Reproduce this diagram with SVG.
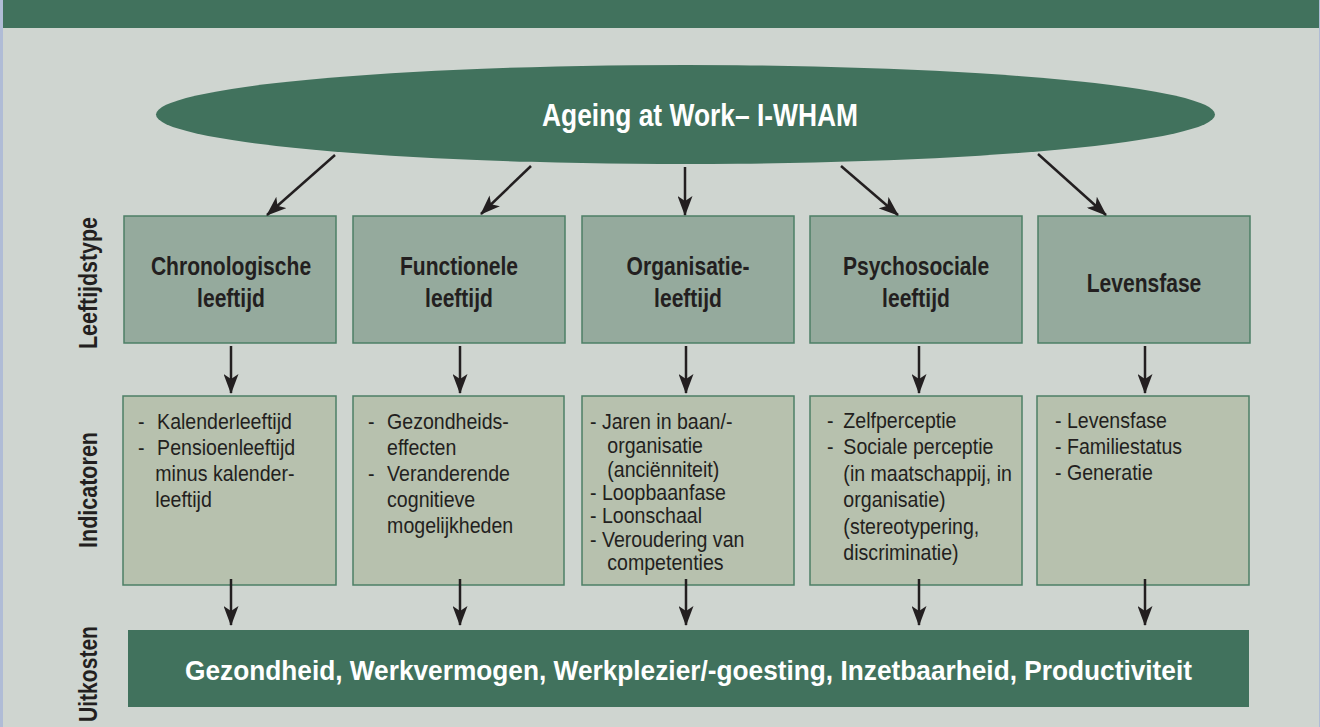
<svg xmlns="http://www.w3.org/2000/svg" width="1320" height="727" viewBox="0 0 1320 727">
<defs>
<marker id="ah" markerUnits="userSpaceOnUse" viewBox="0 0 20 15" refX="19" refY="7.5" markerWidth="20" markerHeight="15" orient="auto">
<path d="M0,0 L20,7.5 L0,15 L5,7.5 z" fill="#231f20"/>
</marker>
<style>
.bg{fill:#cfd5d0}
.green{fill:#41725d}
.tbox{fill:#95aa9d;stroke:#4d7f66;stroke-width:1.5}
.ibox{fill:#b7c1ae;stroke:#4d7f66;stroke-width:1.5}
.conn line{stroke:#231f20;stroke-width:2.5;marker-end:url(#ah)}
.lab{font-family:"Liberation Sans",Arial,sans-serif;font-weight:bold;font-size:26px;fill:#231f20;text-anchor:middle}
.side{font-family:"Liberation Sans",Arial,sans-serif;font-weight:bold;font-size:26px;fill:#231f20;text-anchor:middle}
.ind{font-family:"Liberation Sans",Arial,sans-serif;font-size:21.5px;fill:#231f20}
.wt{font-family:"Liberation Sans",Arial,sans-serif;font-weight:bold;fill:#ffffff;text-anchor:middle}
</style>
</defs>
<rect x="0" y="0" width="1320" height="727" fill="#b0bcd6"/>
<rect class="bg" x="3" y="0" width="1316" height="727"/>
<rect class="green" x="3" y="0" width="1316" height="28"/>

<g id="side-labels">
<text class="side" transform="translate(97,283) rotate(-90)" textLength="132" lengthAdjust="spacingAndGlyphs">Leeftijdstype</text>
<text class="side" transform="translate(97,490) rotate(-90)" textLength="116" lengthAdjust="spacingAndGlyphs">Indicatoren</text>
<text class="side" transform="translate(97,674) rotate(-90)" textLength="96" lengthAdjust="spacingAndGlyphs">Uitkosten</text>
</g>

<g id="root">
<ellipse class="green" cx="685.5" cy="114.5" rx="529.5" ry="49.5"/>
<text class="wt" x="700" y="126" font-size="31" textLength="316" lengthAdjust="spacingAndGlyphs">Ageing at Work– I-WHAM</text>
</g>

<g id="type-chrono">
<rect class="tbox" x="124" y="216" width="212" height="127"/>
<g transform="translate(231,0) scale(0.81,1)"><text class="lab" x="0" y="275">Chronologische</text><text class="lab" x="0" y="307">leeftijd</text></g>
</g>
<g id="type-functioneel">
<rect class="tbox" x="353" y="216" width="212" height="127"/>
<g transform="translate(459,0) scale(0.81,1)"><text class="lab" x="0" y="275">Functionele</text><text class="lab" x="0" y="307">leeftijd</text></g>
</g>
<g id="type-organisatie">
<rect class="tbox" x="582" y="216" width="212" height="127"/>
<g transform="translate(688,0) scale(0.81,1)"><text class="lab" x="0" y="275">Organisatie-</text><text class="lab" x="0" y="307">leeftijd</text></g>
</g>
<g id="type-psychosociaal">
<rect class="tbox" x="810" y="216" width="212" height="127"/>
<g transform="translate(916,0) scale(0.81,1)"><text class="lab" x="0" y="275">Psychosociale</text><text class="lab" x="0" y="307">leeftijd</text></g>
</g>
<g id="type-levensfase">
<rect class="tbox" x="1038" y="216" width="212" height="127"/>
<g transform="translate(1144,0) scale(0.81,1)"><text class="lab" x="0" y="292">Levensfase</text></g>
</g>

<g id="ind-chrono">
<rect class="ibox" x="123" y="396" width="213" height="189"/>
<g class="ind" transform="translate(138,0) scale(0.91,1)">
<text x="0" y="429">-</text><text x="21" y="429">Kalenderleeftijd</text>
<text x="0" y="455">-</text><text x="21" y="455">Pensioenleeftijd</text>
<text x="19" y="481">minus kalender-</text>
<text x="19" y="507">leeftijd</text>
</g>
</g>
<g id="ind-functioneel">
<rect class="ibox" x="353" y="396" width="211" height="189"/>
<g class="ind" transform="translate(368,0) scale(0.91,1)">
<text x="0" y="429">-</text><text x="21" y="429">Gezondheids-</text>
<text x="21" y="455">effecten</text>
<text x="0" y="481">-</text><text x="21" y="481">Veranderende</text>
<text x="21" y="507">cognitieve</text>
<text x="21" y="533">mogelijkheden</text>
</g>
</g>
<g id="ind-organisatie">
<rect class="ibox" x="582" y="396" width="212" height="189"/>
<g class="ind" transform="translate(590,0) scale(0.91,1)">
<text x="0" y="429">- Jaren in baan/-</text>
<text x="19" y="453">organisatie</text>
<text x="19" y="477">(anciënniteit)</text>
<text x="0" y="500">- Loopbaanfase</text>
<text x="0" y="523">- Loonschaal</text>
<text x="0" y="547">- Veroudering van</text>
<text x="19" y="570">competenties</text>
</g>
</g>
<g id="ind-psychosociaal">
<rect class="ibox" x="810" y="396" width="212" height="189"/>
<g class="ind" transform="translate(827,0) scale(0.91,1)">
<text x="0" y="428">-</text><text x="18" y="428">Zelfperceptie</text>
<text x="0" y="454.5">-</text><text x="18" y="454.5">Sociale perceptie</text>
<text x="18" y="481">(in maatschappij, in</text>
<text x="18" y="507.5">organisatie)</text>
<text x="18" y="534">(stereotypering,</text>
<text x="18" y="560.5">discriminatie)</text>
</g>
</g>
<g id="ind-levensfase">
<rect class="ibox" x="1037" y="396" width="212" height="189"/>
<g class="ind" transform="translate(1055,0) scale(0.91,1)">
<text x="0" y="428">- Levensfase</text>
<text x="0" y="454">- Familiestatus</text>
<text x="0" y="480">- Generatie</text>
</g>
</g>

<g id="outcome">
<rect class="green" x="128" y="630" width="1121" height="77"/>
<text class="wt" x="688.5" y="680" font-size="28.5" textLength="1007" lengthAdjust="spacingAndGlyphs">Gezondheid, Werkvermogen, Werkplezier/-goesting, Inzetbaarheid, Productiviteit</text>
</g>

<g class="conn" id="connectors">
<line x1="335" y1="155" x2="267" y2="215"/>
<line x1="531" y1="166" x2="481" y2="214"/>
<line x1="685" y1="167" x2="685" y2="215"/>
<line x1="841" y1="166" x2="898" y2="215"/>
<line x1="1038" y1="154" x2="1106" y2="215"/>
<line x1="231" y1="346" x2="231" y2="393"/>
<line x1="460" y1="346" x2="460" y2="393"/>
<line x1="686" y1="346" x2="686" y2="393"/>
<line x1="919" y1="346" x2="919" y2="393"/>
<line x1="1145" y1="346" x2="1145" y2="393"/>
<line x1="231" y1="579" x2="231" y2="625"/>
<line x1="460" y1="579" x2="460" y2="625"/>
<line x1="686" y1="579" x2="686" y2="625"/>
<line x1="919" y1="579" x2="919" y2="625"/>
<line x1="1145" y1="579" x2="1145" y2="625"/>
</g>
</svg>
